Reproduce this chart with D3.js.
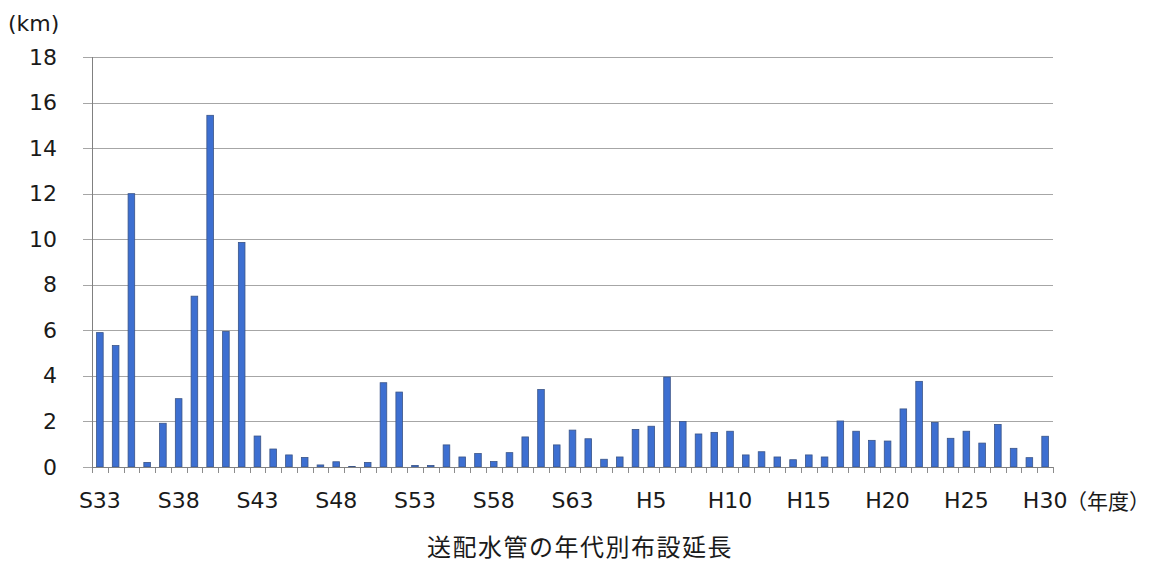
<!DOCTYPE html>
<html>
<head>
<meta charset="utf-8">
<script src="https://cdn.jsdelivr.net/npm/d3@7"></script>
<style>
  body { margin: 0; background: #fff; }
  svg { display: block; font-family: "DejaVu Sans", "Noto Sans CJK JP", sans-serif; }
</style>
</head>
<body>
<script>
// chart data (km per fiscal year, S33 .. H30)
var years = [
  "S33","S34","S35","S36","S37","S38","S39","S40","S41","S42",
  "S43","S44","S45","S46","S47","S48","S49","S50","S51","S52",
  "S53","S54","S55","S56","S57","S58","S59","S60","S61","S62",
  "S63","H1","H2","H3","H4","H5","H6","H7","H8","H9",
  "H10","H11","H12","H13","H14","H15","H16","H17","H18","H19",
  "H20","H21","H22","H23","H24","H25","H26","H27","H28","H29",
  "H30"
];
var lengths = [
  5.9, 5.33, 12.0, 0.2, 1.92, 3.0, 7.5, 15.44, 5.95, 9.86,
  1.36, 0.79, 0.53, 0.42, 0.09, 0.23, 0.02, 0.2, 3.7, 3.29,
  0.07, 0.07, 0.97, 0.44, 0.59, 0.24, 0.63, 1.32, 3.4, 0.97,
  1.62, 1.24, 0.34, 0.44, 1.65, 1.79, 3.95, 2.0, 1.45, 1.52,
  1.57, 0.53, 0.67, 0.44, 0.32, 0.53, 0.44, 2.02, 1.57, 1.17,
  1.14, 2.55, 3.76, 1.96, 1.26, 1.57, 1.05, 1.87, 0.82, 0.41,
  1.35
];
var xLabels = ["S33","S38","S43","S48","S53","S58","S63","H5","H10","H15","H20","H25","H30"];
var yTicks = [0, 2, 4, 6, 8, 10, 12, 14, 16, 18];
var yUnit = "(km)";
var xUnit = "（年度）";
var title = "送配水管の年代別布設延長";

var svgWidth = 1151;
var svgHeight = 563;
var margin = {top: 57, right: 98, bottom: 96, left: 92};
var width = svgWidth - margin.left - margin.right;
var height = svgHeight - margin.top - margin.bottom;

var svg = d3.select("body").append("svg")
  .attr("width", svgWidth)
  .attr("height", svgHeight);

var chartGroup = svg.append("g")
  .attr("transform", `translate(${margin.left}, ${margin.top})`);

var x = d3.scaleBand()
  .domain(years)
  .range([0, width])
  .paddingInner(0.58)
  .paddingOuter(0.29);

var y = d3.scaleLinear()
  .domain([0, 18])
  .range([height, 0]);

// horizontal grid lines
chartGroup.append("g")
  .selectAll("line")
  .data(yTicks)
  .join("line")
  .attr("x1", -9)
  .attr("x2", width)
  .attr("y1", d => Math.round(y(d)) + 0.5)
  .attr("y2", d => Math.round(y(d)) + 0.5)
  .attr("stroke", "#a6a6a6")
  .attr("stroke-width", 1);

// y axis labels
var leftAxis = d3.axisLeft(y).tickValues(yTicks).tickSize(0).tickPadding(35);
chartGroup.append("g")
  .call(leftAxis)
  .call(g => g.select(".domain").remove())
  .selectAll("text")
  .attr("font-size", 22)
  .attr("font-family", "DejaVu Sans")
  .attr("fill", "#1a1a1a");

// bars
chartGroup.append("g")
  .selectAll("rect")
  .data(lengths)
  .join("rect")
  .attr("x", (d, i) => x(years[i]))
  .attr("y", d => y(d))
  .attr("width", x.bandwidth())
  .attr("height", d => height - y(d))
  .attr("fill", "#3d6fd1")
  .attr("stroke", "#3a5487")
  .attr("stroke-width", 0.8);

// band boundary ticks under the x axis
chartGroup.append("g")
  .selectAll("line")
  .data(d3.range(years.length + 1))
  .join("line")
  .attr("x1", i => Math.round(i * x.step()) + 0.5)
  .attr("x2", i => Math.round(i * x.step()) + 0.5)
  .attr("y1", height)
  .attr("y2", height + 6)
  .attr("stroke", "#8c8c8c");

// x axis labels
var bottomAxis = d3.axisBottom(x).tickValues(xLabels).tickSize(0).tickPadding(25);
chartGroup.append("g")
  .attr("transform", `translate(0, ${height})`)
  .call(bottomAxis)
  .call(g => g.select(".domain").remove())
  .selectAll("text")
  .attr("font-size", 22)
  .attr("font-family", "DejaVu Sans")
  .attr("fill", "#1a1a1a");

// x axis line
chartGroup.append("line")
  .attr("x1", 0).attr("x2", width)
  .attr("y1", height + 0.5).attr("y2", height + 0.5)
  .attr("stroke", "#808080");

// y axis line
chartGroup.append("line")
  .attr("x1", 0.5).attr("x2", 0.5)
  .attr("y1", 0).attr("y2", height)
  .attr("stroke", "#808080");

// unit labels and title
svg.append("text")
  .attr("x", 8)
  .attr("y", 31)
  .attr("font-size", 22)
  .attr("fill", "#1a1a1a")
  .text(yUnit);

svg.append("text")
  .attr("x", 1150)
  .attr("y", 509)
  .attr("text-anchor", "end")
  .attr("font-size", 21)
  .attr("font-family", "Noto Sans CJK JP")
  .attr("fill", "#1a1a1a")
  .text(xUnit);

svg.append("text")
  .attr("x", 580)
  .attr("y", 556)
  .attr("text-anchor", "middle")
  .attr("font-size", 24)
  .attr("font-family", "Noto Sans CJK JP")
  .attr("letter-spacing", 1.5)
  .attr("fill", "#1a1a1a")
  .text(title);
</script>
</body>
</html>
